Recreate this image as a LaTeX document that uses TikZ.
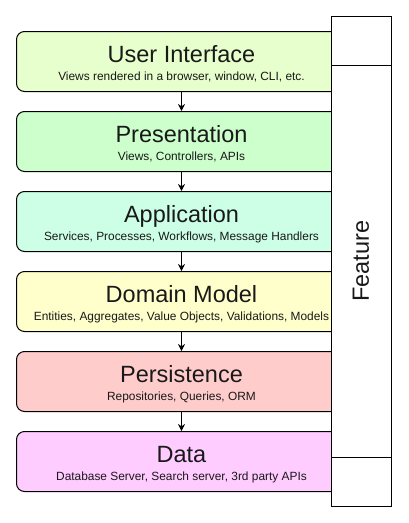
\documentclass[tikz,border=0pt]{standalone}
\usepackage{fontspec}
\setmainfont{Liberation Sans}
\usetikzlibrary{arrows.meta}
\definecolor{uicol}{HTML}{E6FFCC}
\definecolor{prescol}{HTML}{CCFFCC}
\definecolor{appcol}{HTML}{CCFFE6}
\definecolor{domcol}{HTML}{FFFFCC}
\definecolor{perscol}{HTML}{FFCCCC}
\definecolor{datacol}{HTML}{FFCCFF}
\begin{document}
\begin{tikzpicture}[x=1pt,y=-1pt,
  layer/.style={rectangle,draw,line width=1pt,rounded corners=8pt,minimum width=330pt,minimum height=60pt,inner sep=0,anchor=north west},
  title/.style={anchor=base,inner sep=0,text=black!90,font=\fontsize{23.5}{28}\selectfont},
  subtitle/.style={anchor=base,inner sep=0,text=black!90,font=\fontsize{11.9}{14}\selectfont},
  flow/.style={-{Stealth[length=7pt,width=7pt]},line width=1pt}]
\useasboundingbox (0,0) rectangle (409,523);
% the layers, top to bottom
\foreach \n/\t/\s/\c [count=\i from 0] in {
  ui/User Interface/{Views rendered in a browser, window, CLI, etc.}/uicol,
  pres/Presentation/{Views, Controllers, APIs}/prescol,
  app/Application/{Services, Processes, Workflows, Message Handlers}/appcol,
  dom/Domain Model/{Entities, Aggregates, Value Objects, Validations, Models}/domcol,
  pers/Persistence/{Repositories, Queries, ORM}/perscol,
  data/Data/{Database Server, Search server, 3rd party APIs}/datacol} {
  \node[layer,fill=\c] (\n) at (16,31+80*\i) {};
  \node[title] (\n-title) at ([yshift=-31.5pt]\n.north) {\t};
  \node[subtitle] (\n-sub) at ([yshift=-49pt]\n.north) {\s};
}
\foreach \a/\b in {ui/pres,pres/app,app/dom,dom/pers,pers/data} {
  \draw[flow] (\a) -- (\b);
}
% feature column
\draw[line width=1pt,fill=white] (331,16) rectangle (391,506);
\draw[line width=1pt] (331,65) -- (391,65);
\draw[line width=1pt] (331,457) -- (391,457);
\node[rotate=90,inner sep=0,text=black!90,font=\fontsize{23.5}{28}\selectfont] (feature) at (361,261) {Feature};
\end{tikzpicture}
\end{document}
